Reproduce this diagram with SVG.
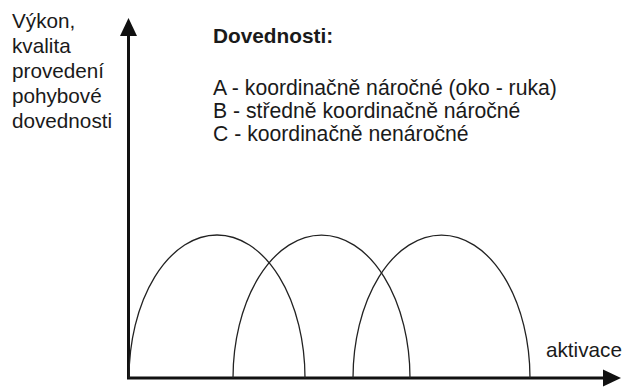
<svg xmlns="http://www.w3.org/2000/svg" width="625" height="388" viewBox="0 0 625 388">
<style>
text{font-family:"Liberation Sans",Arial,sans-serif;fill:#1a1a1a}
.lab{font-size:20.7px}
.leg{font-size:21.2px}
.ttl{font-size:20.8px;font-weight:bold}
.axis{stroke:#111;stroke-width:3;fill:none}
.head{fill:#111}
.arch{stroke:#222;stroke-width:1.3;fill:none}
</style>
<rect width="625" height="388" fill="#fff"/>
<g id="connectors">
<path class="axis" d="M128.5,379 L128.5,32"/>
<polygon class="head" points="128.5,18 137,36 120,36"/>
<path class="axis" d="M127,378 L606,378"/>
<polygon class="head" points="621,378 603,369.5 603,386.5"/>
</g>
<g id="arch-A"><path class="arch" d="M129,378 A88,143 0 0 1 305,378"/></g>
<g id="arch-B"><path class="arch" d="M233,378 A88.5,143 0 0 1 410,378"/></g>
<g id="arch-C"><path class="arch" d="M353,378 A88.5,143 0 0 1 530,378"/></g>
<g id="y-label">
<text class="lab" x="12" y="28">Výkon,</text>
<text class="lab" x="12" y="53">kvalita</text>
<text class="lab" x="12" y="78">provedení</text>
<text class="lab" x="12" y="103">pohybové</text>
<text class="lab" x="12" y="128">dovednosti</text>
</g>
<g id="legend">
<text class="ttl" x="213" y="43">Dovednosti:</text>
<text class="leg" x="213" y="95">A - koordinačně náročné (oko - ruka)</text>
<text class="leg" x="213" y="118">B - středně koordinačně náročné</text>
<text class="leg" x="213" y="141">C - koordinačně nenáročné</text>
</g>
<g id="x-label"><text class="lab" x="546" y="357">aktivace</text></g>
</svg>
